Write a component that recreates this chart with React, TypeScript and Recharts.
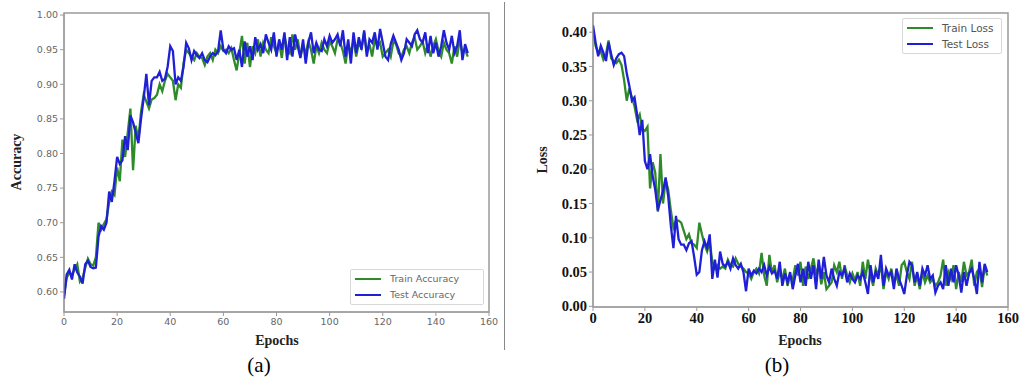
import React from 'react';
import { LineChart, Line, XAxis, YAxis, ReferenceArea } from 'recharts';

const epochs: number[] = Array.from({ length: 153 }, (_, i) => i);
const epochTicks = [0, 20, 40, 60, 80, 100, 120, 140, 160];
const accTicks = [0.6, 0.65, 0.7, 0.75, 0.8, 0.85, 0.9, 0.95, 1.0];
const lossTicks = [0, 0.05, 0.1, 0.15, 0.2, 0.25, 0.3, 0.35, 0.4];
const accDomain = [0.571, 1.003];
const lossDomain = [-0.001, 0.428];
const epochDomain = [0, 160];

const trainAcc = [
  0.595, 0.62, 0.628, 0.625, 0.632, 0.64, 0.615, 0.62, 0.635, 0.648,
  0.64, 0.638, 0.65, 0.7, 0.69, 0.698, 0.705, 0.73, 0.745, 0.74,
  0.78, 0.76, 0.82, 0.795, 0.83, 0.865, 0.776, 0.84, 0.82, 0.86,
  0.885, 0.875, 0.865, 0.878, 0.88, 0.885, 0.9, 0.89, 0.905, 0.915,
  0.91, 0.905, 0.877, 0.9, 0.895, 0.93, 0.95, 0.945, 0.94, 0.935,
  0.945, 0.94, 0.938, 0.928, 0.94, 0.945, 0.935, 0.95, 0.945, 0.955,
  0.948, 0.95, 0.945, 0.952, 0.935, 0.92, 0.945, 0.97, 0.93, 0.96,
  0.925, 0.955, 0.945, 0.965, 0.94, 0.96, 0.95, 0.945, 0.968, 0.955,
  0.945, 0.96, 0.938, 0.97, 0.95, 0.945, 0.972, 0.95, 0.965, 0.94,
  0.955, 0.945, 0.962, 0.95, 0.93, 0.955, 0.945, 0.96, 0.95, 0.945,
  0.962, 0.955, 0.945, 0.965, 0.96, 0.948, 0.93, 0.958, 0.945, 0.965,
  0.94, 0.96, 0.952, 0.975, 0.945, 0.958, 0.94, 0.965, 0.955, 0.96,
  0.94, 0.945, 0.95, 0.94, 0.962, 0.958, 0.945, 0.94, 0.95, 0.955,
  0.945, 0.96, 0.968, 0.95, 0.955, 0.962, 0.945, 0.958, 0.94, 0.955,
  0.965, 0.948, 0.94, 0.96, 0.95, 0.945, 0.93, 0.955, 0.94, 0.965,
  0.945, 0.95, 0.94,
];

const testAcc = [
  0.59, 0.625, 0.632, 0.618, 0.64, 0.628, 0.622, 0.612, 0.64, 0.645,
  0.636, 0.634, 0.635, 0.68, 0.695, 0.69, 0.7, 0.745, 0.73, 0.76,
  0.795, 0.785, 0.79, 0.825, 0.805, 0.855, 0.845, 0.83, 0.815, 0.85,
  0.88, 0.915, 0.87, 0.905, 0.91, 0.91, 0.918, 0.905, 0.908, 0.925,
  0.955, 0.948, 0.9, 0.91, 0.905, 0.925, 0.96, 0.952, 0.935, 0.948,
  0.942, 0.938, 0.945, 0.935, 0.932, 0.94, 0.945, 0.942, 0.948, 0.978,
  0.95, 0.945, 0.955, 0.95, 0.952, 0.935, 0.95, 0.925, 0.962, 0.94,
  0.955, 0.935, 0.968, 0.95, 0.958, 0.945, 0.972, 0.96, 0.95, 0.975,
  0.94, 0.965, 0.95, 0.975, 0.935, 0.968, 0.94, 0.972, 0.955, 0.938,
  0.965, 0.93, 0.96, 0.975, 0.945, 0.96, 0.95, 0.948, 0.965, 0.955,
  0.97, 0.96, 0.965, 0.972, 0.955, 0.978, 0.94, 0.965, 0.93, 0.975,
  0.945, 0.968, 0.95, 0.978, 0.94, 0.965, 0.96, 0.975, 0.95, 0.98,
  0.96, 0.94, 0.935, 0.958, 0.97, 0.96, 0.95, 0.935, 0.945, 0.965,
  0.96, 0.955, 0.972, 0.978, 0.965, 0.96, 0.975, 0.945, 0.97, 0.945,
  0.96, 0.94, 0.955, 0.978, 0.96, 0.95, 0.97, 0.945, 0.955, 0.978,
  0.935, 0.958, 0.945,
];

const trainLoss = [
  0.405, 0.38, 0.37, 0.372, 0.36, 0.368, 0.388, 0.362, 0.358, 0.355,
  0.36, 0.352, 0.33, 0.3, 0.318, 0.305, 0.292, 0.272, 0.28, 0.258,
  0.256, 0.262, 0.172, 0.21, 0.195, 0.138, 0.222, 0.15, 0.185, 0.17,
  0.14, 0.115, 0.125, 0.125, 0.122, 0.11, 0.098, 0.105, 0.092, 0.09,
  0.085, 0.122, 0.105, 0.09, 0.08, 0.095, 0.065, 0.055, 0.06, 0.055,
  0.058, 0.055, 0.068, 0.06, 0.058, 0.07, 0.062, 0.058, 0.055, 0.05,
  0.048, 0.04, 0.05, 0.055, 0.048, 0.078, 0.045, 0.03, 0.075, 0.048,
  0.06, 0.035, 0.05, 0.04, 0.055, 0.03, 0.045, 0.038, 0.06, 0.045,
  0.065, 0.03, 0.058, 0.04, 0.055, 0.07, 0.045, 0.06, 0.032, 0.05,
  0.025, 0.03, 0.035, 0.06, 0.05, 0.065, 0.04, 0.06, 0.045, 0.035,
  0.048, 0.038, 0.05, 0.03, 0.065, 0.04, 0.068, 0.045, 0.03, 0.055,
  0.045, 0.06, 0.025, 0.05, 0.04, 0.055, 0.035, 0.045, 0.03, 0.06,
  0.065, 0.05, 0.04, 0.065, 0.03, 0.045, 0.025, 0.05, 0.035, 0.045,
  0.035, 0.04, 0.03, 0.035, 0.045, 0.068, 0.03, 0.05, 0.04, 0.06,
  0.025, 0.05, 0.035, 0.065, 0.045, 0.05, 0.068, 0.03, 0.05, 0.055,
  0.028, 0.058, 0.045,
];

const testLoss = [
  0.41, 0.385, 0.365, 0.38, 0.37, 0.358, 0.385, 0.368, 0.352, 0.362,
  0.368, 0.37, 0.365, 0.34, 0.322, 0.3, 0.305, 0.28, 0.25, 0.272,
  0.212, 0.2, 0.222, 0.19, 0.17, 0.14, 0.155, 0.168, 0.188, 0.16,
  0.118, 0.085, 0.132, 0.098, 0.09, 0.09, 0.082, 0.092, 0.095, 0.072,
  0.046, 0.05, 0.082, 0.095, 0.085, 0.105, 0.04, 0.068, 0.042, 0.08,
  0.062, 0.058, 0.065, 0.055, 0.07, 0.06, 0.055, 0.062, 0.05, 0.022,
  0.055, 0.045, 0.052, 0.048, 0.055, 0.05, 0.06, 0.045, 0.058, 0.048,
  0.052, 0.04, 0.065, 0.03, 0.048, 0.035, 0.05, 0.025, 0.045, 0.062,
  0.035, 0.055, 0.03, 0.065, 0.04, 0.06, 0.025, 0.068, 0.04, 0.072,
  0.045, 0.035, 0.055, 0.04, 0.03, 0.05, 0.045, 0.055, 0.035, 0.048,
  0.04, 0.035, 0.045, 0.04, 0.05, 0.035, 0.018, 0.06, 0.035, 0.05,
  0.04, 0.075, 0.03, 0.055, 0.045, 0.05, 0.025, 0.055, 0.04, 0.03,
  0.018, 0.045, 0.065, 0.06, 0.035, 0.05, 0.03, 0.055, 0.045, 0.06,
  0.04, 0.045, 0.02, 0.03, 0.035, 0.025, 0.06, 0.03, 0.055, 0.035,
  0.06, 0.045, 0.02, 0.05, 0.03, 0.048, 0.055, 0.04, 0.018, 0.065,
  0.035, 0.062, 0.05,
];

const accData = epochs.map((e, i) => ({ epoch: e, train: trainAcc[i], test: testAcc[i] }));
const lossData = epochs.map((e, i) => ({ epoch: e, train: trainLoss[i], test: testLoss[i] }));

const GREEN = '#2f8a2a';
const BLUE = '#1f1fd6';
const SPINE = '#9a9a9a';

const serifBold: React.CSSProperties = {
  position: 'absolute',
  fontFamily: '"Liberation Serif", "Times New Roman", serif',
  fontWeight: 'bold',
  fontSize: 14,
  color: '#222',
  whiteSpace: 'nowrap',
};

const capStyle: React.CSSProperties = {
  position: 'absolute',
  fontFamily: '"Liberation Serif", "Times New Roman", serif',
  fontSize: 21,
  color: '#000',
  whiteSpace: 'nowrap',
};

function LegendBox(props: {
  items: { label: string; color: string }[];
  left: number;
  top: number;
  width: number;
  fontSize: number;
  rowH: number;
  lineW: number;
  textColor: string;
}) {
  const { items, left, top, width, fontSize, rowH, lineW, textColor } = props;
  return (
    <div
      style={{
        position: 'absolute',
        left,
        top,
        width,
        border: '1px solid #d8d8d8',
        borderRadius: 2,
        background: 'rgba(255,255,255,0.85)',
        padding: '1px 4px',
        boxSizing: 'border-box',
      }}
    >
      {items.map((it) => (
        <div key={it.label} style={{ display: 'flex', alignItems: 'center', height: rowH }}>
          <div style={{ width: lineW, height: 2, background: it.color, marginRight: 9 }} />
          <span style={{ fontFamily: '"DejaVu Sans", sans-serif', fontSize, color: textColor, lineHeight: 1 }}>{it.label}</span>
        </div>
      ))}
    </div>
  );
}

export default function App() {
  return (
    <div style={{ position: 'absolute', left: 0, top: 0, width: 1020, height: 381, background: '#fff', overflow: 'hidden' }}>
      {/* Left chart (a) */}
      <div style={{ position: 'absolute', left: 0, top: 0 }}>
        <LineChart width={500} height={381} data={accData} margin={{ top: 13, right: 11, bottom: 39, left: 14 }}>
          <XAxis
            dataKey="epoch"
            type="number"
            domain={epochDomain}
            ticks={epochTicks}
            height={30}
            tickSize={4}
            stroke={SPINE}
            tick={{ fontSize: 9.5, fill: '#666', fontFamily: '"DejaVu Sans", sans-serif' }}
            allowDataOverflow
          />
          <YAxis
            type="number"
            domain={accDomain}
            ticks={accTicks}
            width={50}
            tickSize={4}
            stroke={SPINE}
            tickFormatter={(v: number) => v.toFixed(2)}
            tick={{ fontSize: 9.5, fill: '#666', fontFamily: '"DejaVu Sans", sans-serif' }}
            allowDataOverflow
          />
          <ReferenceArea
            x1={epochDomain[0]}
            x2={epochDomain[1]}
            y1={accDomain[0]}
            y2={accDomain[1]}
            fill="none"
            stroke={SPINE}
            strokeWidth={1.5}
            ifOverflow="visible"
          />
          <Line dataKey="train" name="Train Accuracy" stroke={GREEN} strokeWidth={2.3} dot={false} isAnimationActive={false} />
          <Line dataKey="test" name="Test Accuracy" stroke={BLUE} strokeWidth={2.3} dot={false} isAnimationActive={false} />
        </LineChart>
      </div>
      <LegendBox
        items={[
          { label: 'Train Accuracy', color: GREEN },
          { label: 'Test Accuracy', color: BLUE },
        ]}
        left={350}
        top={269}
        width={134}
        fontSize={9.5}
        rowH={16}
        lineW={26}
        textColor="#666"
      />
      <div style={{ ...serifBold, left: 17, top: 162, transform: 'translate(-50%, -50%) rotate(-90deg)' }}>Accuracy</div>
      <div style={{ ...serifBold, left: 277, top: 341, transform: 'translate(-50%, -50%)' }}>Epochs</div>
      <div style={{ ...capStyle, left: 259, top: 365, transform: 'translate(-50%, -50%)' }}>(a)</div>

      {/* divider */}
      <div style={{ position: 'absolute', left: 504, top: 2, width: 1, height: 348, background: '#888' }} />

      {/* Right chart (b) */}
      <div style={{ position: 'absolute', left: 505, top: 0 }}>
        <LineChart width={515} height={381} data={lossData} margin={{ top: 13, right: 12, bottom: 44, left: 38 }}>
          <XAxis
            dataKey="epoch"
            type="number"
            domain={epochDomain}
            ticks={epochTicks}
            height={30}
            tickSize={4}
            stroke={SPINE}
            tick={{ fontSize: 14.5, fill: '#111', fontWeight: 'bold', fontFamily: '"Liberation Serif", serif' }}
            allowDataOverflow
          />
          <YAxis
            type="number"
            domain={lossDomain}
            ticks={lossTicks}
            width={50}
            tickSize={4}
            stroke={SPINE}
            tickFormatter={(v: number) => v.toFixed(2)}
            tick={{ fontSize: 14.5, fill: '#111', fontWeight: 'bold', fontFamily: '"Liberation Serif", serif' }}
            allowDataOverflow
          />
          <ReferenceArea
            x1={epochDomain[0]}
            x2={epochDomain[1]}
            y1={lossDomain[0]}
            y2={lossDomain[1]}
            fill="none"
            stroke={SPINE}
            strokeWidth={1.5}
            ifOverflow="visible"
          />
          <Line dataKey="train" name="Train Loss" stroke={GREEN} strokeWidth={2.3} dot={false} isAnimationActive={false} />
          <Line dataKey="test" name="Test Loss" stroke={BLUE} strokeWidth={2.3} dot={false} isAnimationActive={false} />
        </LineChart>
      </div>
      <LegendBox
        items={[
          { label: 'Train Loss', color: GREEN },
          { label: 'Test Loss', color: BLUE },
        ]}
        left={902}
        top={18}
        width={100}
        fontSize={10.5}
        rowH={16}
        lineW={26}
        textColor="#555"
      />
      <div style={{ ...serifBold, left: 543, top: 160, transform: 'translate(-50%, -50%) rotate(-90deg)' }}>Loss</div>
      <div style={{ ...serifBold, left: 800, top: 341, transform: 'translate(-50%, -50%)' }}>Epochs</div>
      <div style={{ ...capStyle, left: 777, top: 365, transform: 'translate(-50%, -50%)' }}>(b)</div>
    </div>
  );
}
